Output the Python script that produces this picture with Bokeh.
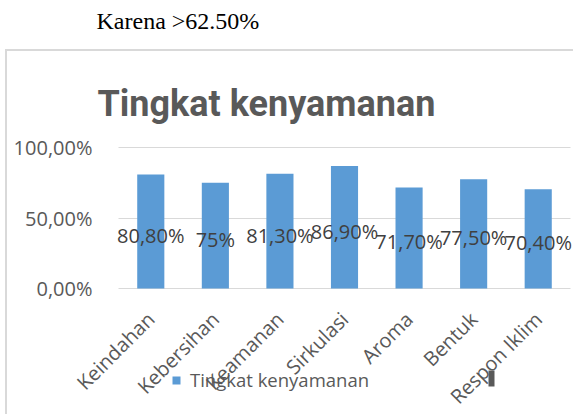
from bokeh.plotting import figure
from bokeh.models import (ColumnDataSource, Range1d, FixedTicker, Label,
                          Legend, LegendItem, BoxAnnotation)
from bokeh.core.properties import value
from bokeh.embed import file_html
from bokeh.resources import INLINE
import math

categories = ["Keindahan", "Kebersihan", "Keamanan", "Sirkulasi", "Aroma", "Bentuk", "Respon Iklim"]
values = [0.808, 0.75, 0.813, 0.869, 0.717, 0.775, 0.704]
value_labels = ["80,80%", "75%", "81,30%", "86,90%", "71,70%", "77,50%", "70,40%"]
y_ticks = [0, 0.5, 1.0]
y_tick_labels = ["0,00%", "50,00%", "100,00%"]
series_name = "Tingkat kenyamanan"
chart_title = "Tingkat kenyamanan"
caption = "Karena >62.50%"

FONT = "Open Sans"
BAR = "#5b9bd5"
GRID = "#d9d9d9"
TXT = "#595959"

# layout in canvas pixels: plot area x 118..570, value 100% at y=147, 0% at y=288
W, H = 573, 414
PA_LEFT, PA_RIGHT, PA_TOP, PA_ZERO = 118, 570, 147, 288
n = len(categories)
ux = (PA_RIGHT - PA_LEFT) / n
uy = PA_ZERO - PA_TOP
x_range = Range1d(-0.5 - PA_LEFT / ux, n - 0.5 + (W - PA_RIGHT) / ux)
y_range = Range1d(-(H - PA_ZERO) / uy, 1 + PA_TOP / uy)

idx = list(range(n))
src = ColumnDataSource(dict(x=idx, cat=categories, val=values, lab=value_labels,
                            mid=[v / 2 for v in values]))

p = figure(width=W, height=H, x_range=x_range, y_range=y_range,
           output_backend="svg", toolbar_location=None, min_border=0)
p.outline_line_color = None
p.border_fill_color = None
p.background_fill_color = None
# light grey chart-area border (left and top edges of the Excel chart box)
p.styles = {
    "background-color": "white",
    "background-image": f"linear-gradient({GRID}, {GRID}), linear-gradient({GRID}, {GRID})",
    "background-position": "5px 49px, 5px 49px",
    "background-size": "2px 400px, 600px 2px",
    "background-repeat": "no-repeat",
}

bars = p.vbar(x="x", top="val", width=0.42, source=src, fill_color=BAR, line_color=None)

p.text(x="x", y="mid", text="lab", source=src, text_align="center",
       text_baseline="middle", y_offset=4, text_font=value(FONT),
       text_font_size="20px", text_color="#404040")

p.xgrid.grid_line_color = None
p.ygrid.grid_line_color = GRID
p.ygrid.grid_line_width = 1
p.ygrid.cross_bounds = (-0.5, n - 0.5)

p.yaxis.ticker = FixedTicker(ticks=y_ticks)
p.yaxis.major_label_overrides = {t: l for t, l in zip(y_ticks, y_tick_labels)}
p.yaxis.fixed_location = -0.5
p.xaxis.ticker = FixedTicker(ticks=idx)
p.xaxis.major_label_overrides = {i: c for i, c in zip(idx, categories)}
p.xaxis.fixed_location = 0
for ax in (p.xaxis, p.yaxis):
    ax.axis_line_color = None
    ax.major_tick_line_color = None
    ax.minor_tick_line_color = None
    ax.major_label_text_font = FONT
    ax.major_label_text_color = TXT
    ax.major_label_text_font_size = "20px"
p.yaxis.major_label_standoff = 20
p.xaxis.major_label_orientation = math.pi / 4
p.xaxis.major_label_standoff = 21

p.add_layout(Label(x=97, y=H - 103, x_units="screen", y_units="screen", text=chart_title,
                   text_font="Roboto", text_font_style="bold", text_font_size="36px",
                   text_color=TXT, text_align="left", text_baseline="alphabetic"))
p.add_layout(Label(x=96, y=H - 20, x_units="screen", y_units="screen", text=caption,
                   text_font="Liberation Serif", text_font_size="24px",
                   text_color="black", text_align="left", text_baseline="alphabetic"))

# small dark mark next to the last category label in the reference
p.add_layout(BoxAnnotation(left=488, right=494, top=H - 370, bottom=H - 386,
                           left_units="screen", right_units="screen",
                           top_units="screen", bottom_units="screen",
                           fill_color=TXT, fill_alpha=1, line_color=None))

legend = Legend(items=[LegendItem(label=series_name, renderers=[bars])],
                location=(171, 22), orientation="horizontal",
                label_text_font=FONT, label_text_font_size="18.5px",
                label_text_color=TXT, glyph_width=10, glyph_height=10,
                label_standoff=9, padding=0, margin=0, border_line_color=None,
                background_fill_alpha=0)
p.add_layout(legend, "center")

open("out.html", "w").write(file_html(p, INLINE))
